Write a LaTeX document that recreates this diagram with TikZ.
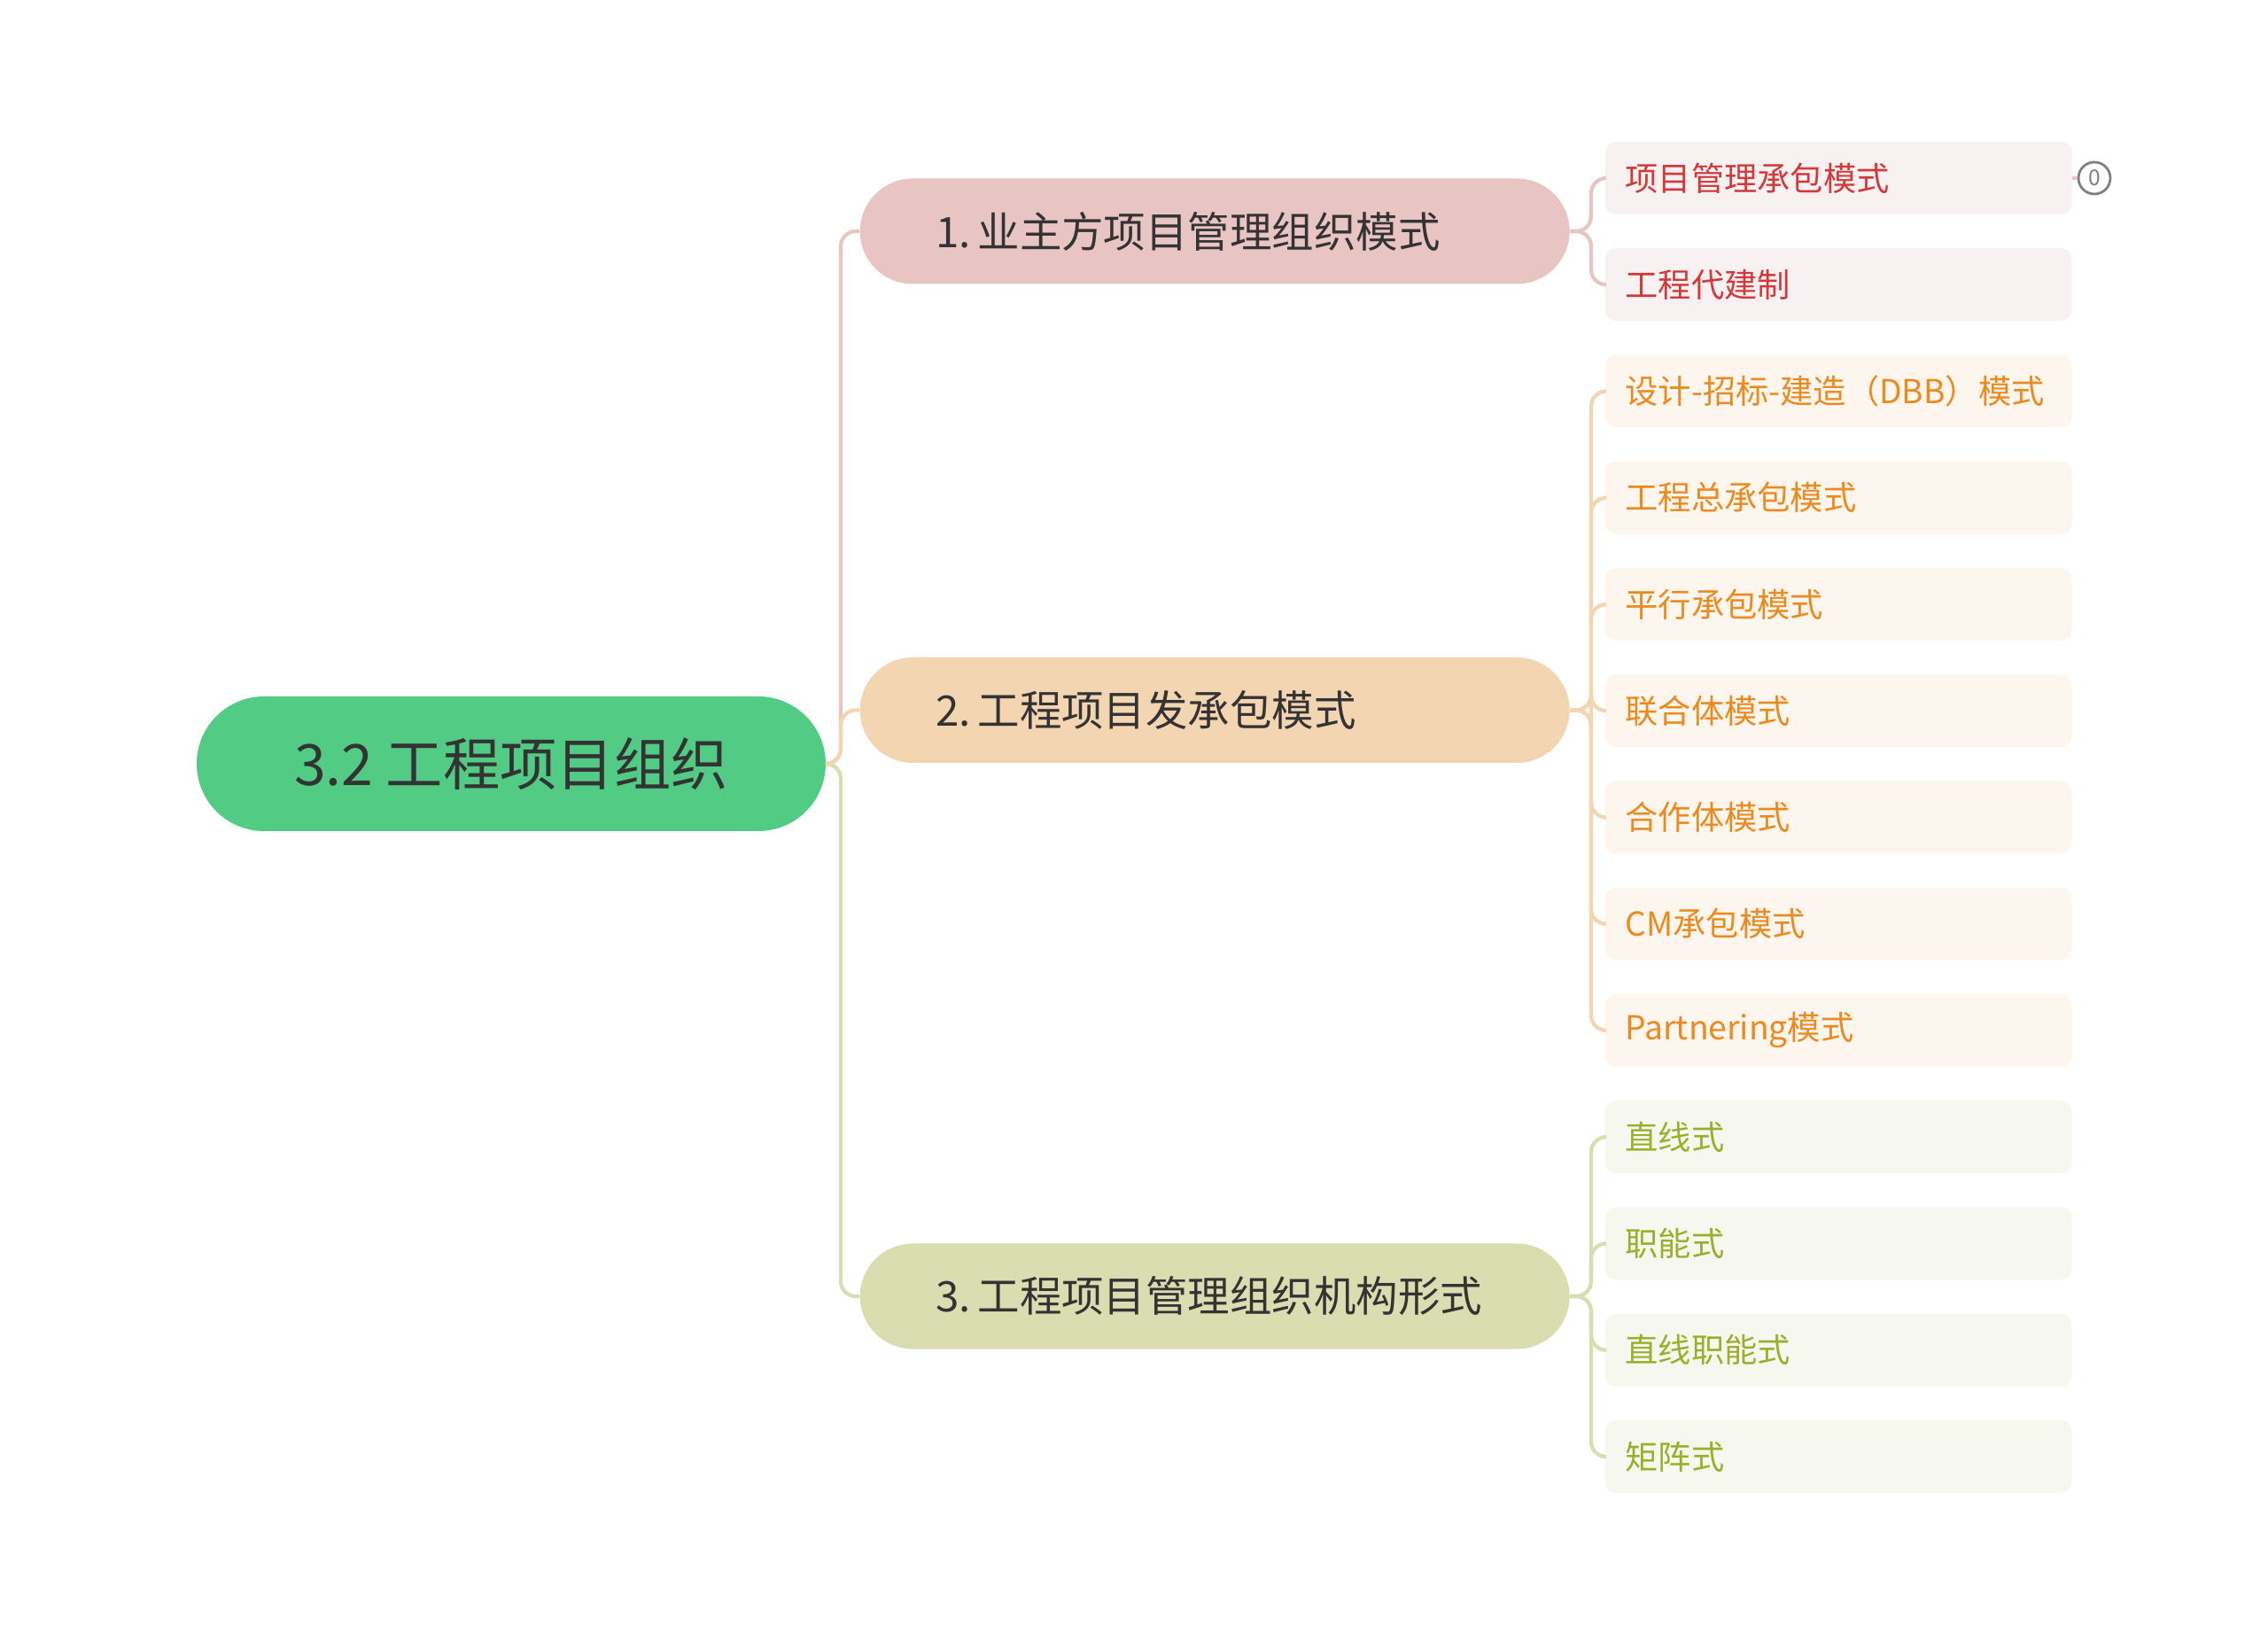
\documentclass[tikz,border=0pt]{standalone}
\usepackage{fontspec}
\setmainfont{Noto Sans CJK SC}
\usetikzlibrary{positioning}

\definecolor{rootgreen}{HTML}{52CC84}
\definecolor{pinkfill}{HTML}{E8C4C3}
\definecolor{orangefill}{HTML}{F3D5B2}
\definecolor{olivefill}{HTML}{D9DDB0}
\definecolor{pinkleaf}{HTML}{F8F1F1}
\definecolor{orangeleaf}{HTML}{FDF6EF}
\definecolor{oliveleaf}{HTML}{F6F7EE}
\definecolor{redtext}{HTML}{D2393A}
\definecolor{orangetext}{HTML}{EB8A1F}
\definecolor{olivetext}{HTML}{9CAF2C}
\definecolor{darktext}{HTML}{333333}

\begin{document}
\begin{tikzpicture}[
  root/.style={fill=rootgreen, rounded corners=0.76cm, minimum width=7.1cm,
    minimum height=1.52cm, text=darktext, font=\fontsize{18.3}{18.3}\selectfont},
  topic/.style={rounded corners=0.595cm, text width=6.5cm, inner xsep=0.755cm,
    minimum height=1.19cm, align=left, anchor=west, text=darktext,
    font=\fontsize{13.5}{13.5}\selectfont},
  leaf/.style={rounded corners=0.12cm, text width=4.81cm, inner xsep=0.23cm,
    minimum height=0.82cm, align=left, anchor=west,
    font=\fontsize{10.6}{10.6}\selectfont},
  link/.style={line width=1.2pt, rounded corners=0.17cm}
  ]

  \useasboundingbox (0,0) rectangle (25.6,-18.43);

  \newcommand\XT{9.49};
  \newcommand\XM{9.70};
  \newcommand\XB{17.96};
  \newcommand\XL{18.11};
  \newcommand\DY{1.2025};

  \node[root] (root) at (5.77,-8.62) {3.2 工程项目组织};

  \node[topic, fill=pinkfill] (t1) at (\XM,-2.61) {\hspace*{0.1cm}1.\,业主方项目管理组织模式};
  \node[topic, fill=orangefill] (t2) at (\XM,-8.015) {\hspace*{0.1cm}2.\,工程项目发承包模式};
  \node[topic, fill=olivefill] (t3) at (\XM,-14.63) {\hspace*{0.1cm}3.\,工程项目管理组织机构形式};

  \draw[link, pinkfill] (root.east) -- (\XT,-8.62) |- (t1.west);
  \draw[link, olivefill] (root.east) -- (\XT,-8.62) |- (t3.west);
  \draw[link, orangefill] (root.east) -- (\XT,-8.62) |- (t2.west);

  \foreach \txt [count=\i] in {项目管理承包模式, 工程代建制} {
    \node[leaf, fill=pinkleaf, text=redtext] (l\i) at (\XL,{-2.01-\DY*(\i-1)}) {\txt};
    \draw[link, pinkfill] (t1.east) -- (\XB,-2.61) |- (l\i.west);
  }

  \foreach \txt [count=\i from 3] in {设计-招标-建造（DBB）模式, 工程总承包模式,
      平行承包模式, 联合体模式, 合作体模式, CM承包模式, Partnering模式} {
    \node[leaf, fill=orangeleaf, text=orangetext] (l\i) at (\XL,{-2.01-\DY*(\i-1)}) {\txt};
    \draw[link, orangefill] (t2.east) -- (\XB,-8.015) |- (l\i.west);
  }

  \foreach \txt [count=\i from 10] in {直线式, 职能式, 直线职能式, 矩阵式} {
    \node[leaf, fill=oliveleaf, text=olivetext] (l\i) at (\XL,{-2.01-\DY*(\i-1)}) {\txt};
    \draw[link, olivefill] (t3.east) -- (\XB,-14.63) |- (l\i.west);
  }

  \node[circle, draw=gray, line width=0.8pt, inner sep=0pt, minimum size=0.36cm,
    text=gray, font=\fontsize{7}{7}\selectfont] (fold) at (23.64,-2.01) {0};
  \draw[pinkfill, line width=1.2pt] (l1.east) -- (fold.west);

\end{tikzpicture}
\end{document}
